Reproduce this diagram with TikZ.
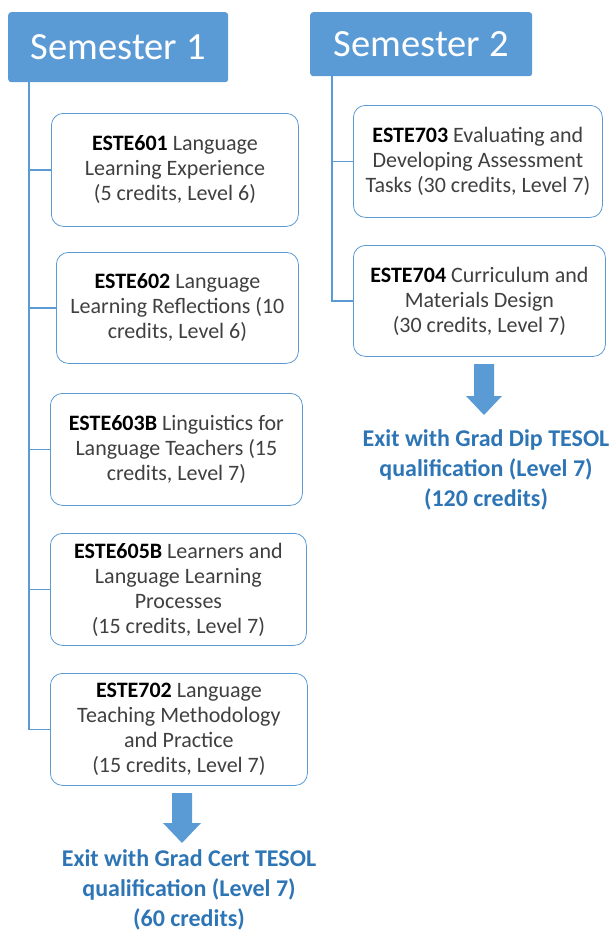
\documentclass[tikz,border=0pt]{standalone}
\usepackage{fontspec}
\setmainfont{Carlito}
\usetikzlibrary{positioning}

\definecolor{semBlue}{HTML}{5B9BD5}
\definecolor{exitBlue}{HTML}{2E75B6}
\definecolor{boxText}{HTML}{404040}

\tikzset{
  semBox/.style={rectangle, fill=semBlue, rounded corners=3pt, text=white, anchor=north west, font=\fontsize{38.5}{44}\selectfont, inner sep=0pt},
  courseBox/.style={rectangle, draw=semBlue, thick, rounded corners=12pt, fill=white, anchor=north west, align=center, text=boxText, font=\fontsize{22}{25}\selectfont, inner sep=0pt},
  exitText/.style={align=center, text=exitBlue, font=\bfseries\fontsize{24}{30}\selectfont},
  link/.style={draw=semBlue, line width=1.3pt}
}
\newcommand{\code}[1]{\textbf{\color{black}#1}}

\begin{document}
\begin{tikzpicture}[x=1pt, y=-1pt]
        \useasboundingbox (0,0) rectangle (610,935);

        \node[semBox, minimum width=220pt, minimum height=70pt] (sem1Node) at (8, 12) {Semester 1};
        \node[semBox, minimum width=222pt, minimum height=64pt] (sem2Node) at (310, 12) {Semester 2};

        \node[courseBox, minimum width=247pt, minimum height=113pt] (c601Node) at (51, 113) {\code{ESTE601} Language\\Learning Experience\\(5 credits, Level 6)};
        \node[courseBox, minimum width=242pt, minimum height=111pt] (c602Node) at (56, 252) {\code{ESTE602} Language\\Learning Reflections (10\\credits, Level 6)};
        \node[courseBox, minimum width=252pt, minimum height=112pt] (c603Node) at (50, 393) {\code{ESTE603B} Linguistics for\\Language Teachers (15\\credits, Level 7)};
        \node[courseBox, minimum width=256pt, minimum height=112pt] (c605Node) at (50, 533) {\code{ESTE605B} Learners and\\Language Learning\\Processes\\(15 credits, Level 7)};
        \node[courseBox, minimum width=257pt, minimum height=112pt] (c702Node) at (50, 673) {\code{ESTE702} Language\\Teaching Methodology\\and Practice\\(15 credits, Level 7)};

        \node[courseBox, minimum width=249pt, minimum height=112pt] (c703Node) at (353, 105) {\code{ESTE703} Evaluating and\\Developing Assessment\\Tasks (30 credits, Level 7)};
        \node[courseBox, minimum width=252pt, minimum height=111pt] (c704Node) at (353, 245) {\code{ESTE704} Curriculum and\\Materials Design\\(30 credits, Level 7)};

        \coordinate (s1Trunk) at (29, 82);
        \coordinate (s2Trunk) at (332, 76);

        \draw[link] (s1Trunk) |- (c601Node.west);
        \draw[link] (s1Trunk) |- (c602Node.west);
        \draw[link] (s1Trunk) |- (c603Node.west);
        \draw[link] (s1Trunk) |- (c605Node.west);
        \draw[link] (s1Trunk) |- (c702Node.west);
        \draw[link] (s2Trunk) |- (c703Node.west);
        \draw[link] (s2Trunk) |- (c704Node.west);

        % block arrows
        \coordinate (arr1) at (182, 793);
        \coordinate (arr2) at (484, 364);
        \fill[semBlue] (arr1) ++(-10,0) -- ++(20,0) -- ++(0,30) -- ++(9,0) -- ++(-19,20) -- ++(-19,-20) -- ++(9,0) -- cycle;
        \fill[semBlue] (arr2) ++(-10,0) -- ++(20,0) -- ++(0,32) -- ++(8,0) -- ++(-18,19) -- ++(-18,-19) -- ++(8,0) -- cycle;

        \node[exitText] (exit1) at (189, 890) {Exit with Grad Cert TESOL\\qualification (Level 7)\\(60 credits)};
        \node[exitText] (exit2) at (486, 470) {Exit with Grad Dip TESOL\\qualification (Level 7)\\(120 credits)};
      \end{tikzpicture}
\end{document}
